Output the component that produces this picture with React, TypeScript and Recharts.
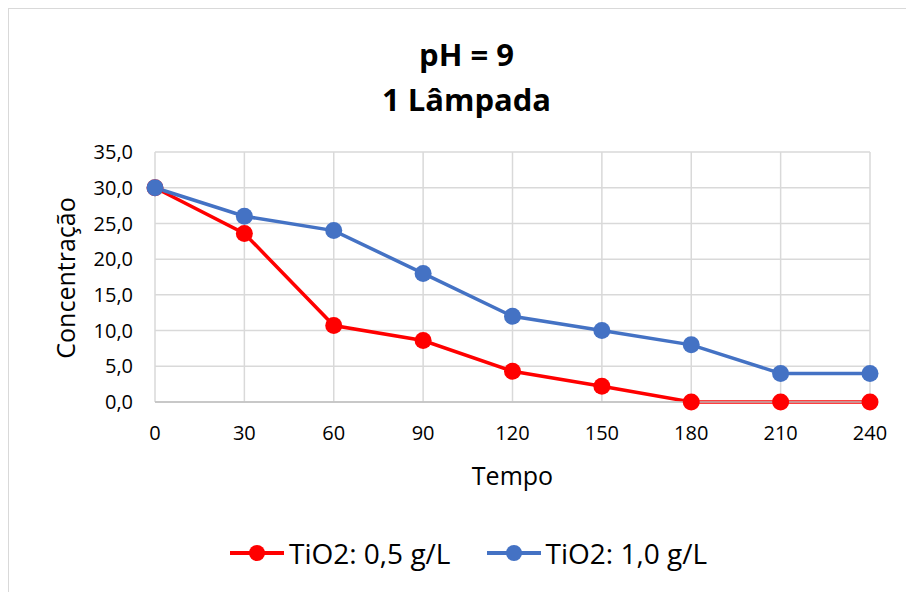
import { CartesianGrid, Label, Legend, Line, LineChart, XAxis, YAxis } from "recharts";

const FONT = "'Open Sans', 'Noto Sans', sans-serif";

// Tempo (min)
const TEMPO = [0, 30, 60, 90, 120, 150, 180, 210, 240];
// Concentração por dose de TiO2
const TIO2_05 = [30, 23.6, 10.7, 8.6, 4.3, 2.2, 0, 0, 0];
const TIO2_10 = [30, 26, 24, 18, 12, 10, 8, 4, 4];
const Y_TICKS = [0, 5, 10, 15, 20, 25, 30, 35];

const SERIES = [
  { key: "a", name: "TiO2: 0,5 g/L", color: "#FF0000" },
  { key: "b", name: "TiO2: 1,0 g/L", color: "#4472C4" },
];

const data = TEMPO.map((t, i) => ({ tempo: String(t), a: TIO2_05[i], b: TIO2_10[i] }));

const W = 897;
const H = 583;

function LegendContent({ payload }: any) {
  return (
    <div
      style={{
        display: "flex",
        justifyContent: "center",
        paddingLeft: 22,
        fontFamily: FONT,
        fontSize: 28,
        color: "#000",
        lineHeight: "38px",
      }}
    >
      {(payload || []).map((p: any, i: number) => (
        <div key={p.value} style={{ display: "flex", alignItems: "center", marginLeft: i ? 36 : 0 }}>
          <svg width={54} height={20}>
            <line x1={0} y1={10} x2={54} y2={10} stroke={p.color} strokeWidth={4} />
            <circle cx={27} cy={10} r={8} fill={p.color} />
          </svg>
          <span style={{ marginLeft: 5 }}>{p.value}</span>
        </div>
      ))}
    </div>
  );
}

export default function App() {
  return (
    <div style={{ position: "absolute", left: 8, top: 8, width: 898, height: 584, overflow: "hidden" }}>
      <div
        style={{
          position: "relative",
          width: W,
          height: H + 20,
          border: "1px solid #d9d9d9",
          background: "#fff",
        }}
      >
        <div
          style={{
            position: "absolute",
            left: 0,
            top: 23,
            width: W,
            paddingLeft: 18,
            boxSizing: "border-box",
            textAlign: "center",
            fontFamily: FONT,
            fontWeight: 700,
            fontSize: 31,
            lineHeight: "45px",
            color: "#000",
          }}
        >
          <div>pH = 9</div>
          <div>1 Lâmpada</div>
        </div>
        <LineChart
          width={W}
          height={H}
          data={data}
          margin={{ top: 143, right: 36, left: 0, bottom: 160 }}
          style={{ fontFamily: FONT }}
        >
          <CartesianGrid stroke="#d9d9d9" strokeWidth={1.5} />
          <XAxis
            dataKey="tempo"
            height={30}
            tickLine={false}
            tickSize={0}
            tickMargin={24}
            axisLine={{ stroke: "#bfbfbf", strokeWidth: 1.5 }}
            tick={{ fill: "#000", fontSize: 20 }}
            interval={0}
          >
            <Label
              content={(props: any) => {
                const vb = props.viewBox || {};
                return (
                  <text
                    x={vb.x + vb.width / 2}
                    y={vb.y + 83}
                    textAnchor="middle"
                    fill="#000"
                    fontSize={25}
                    fontFamily={FONT}
                  >
                    Tempo
                  </text>
                );
              }}
            />
          </XAxis>
          <YAxis
            width={146}
            domain={[0, 35]}
            ticks={Y_TICKS}
            interval={0}
            axisLine={false}
            tickLine={false}
            tickSize={0}
            tickMargin={22}
            tick={{ fill: "#000", fontSize: 20 }}
            tickFormatter={(v: number) => v.toFixed(1).replace(".", ",")}
          >
            <Label
              content={(props: any) => {
                const vb = props.viewBox || {};
                const x = vb.x + 56;
                const y = vb.y + vb.height / 2 + 1;
                return (
                  <text
                    x={x}
                    y={y}
                    transform={`rotate(-90, ${x}, ${y})`}
                    textAnchor="middle"
                    dominantBaseline="central"
                    fill="#000"
                    fontSize={25}
                    fontFamily={FONT}
                  >
                    Concentração
                  </text>
                );
              }}
            />
          </YAxis>
          <Legend
            verticalAlign="middle"
            layout="horizontal"
            content={LegendContent}
            wrapperStyle={{ top: 525, left: 0, width: W }}
          />
          {SERIES.map((s) => (
            <Line
              key={s.key}
              type="linear"
              dataKey={s.key}
              name={s.name}
              stroke={s.color}
              strokeWidth={3.5}
              dot={{ r: 8.5, fill: s.color, stroke: "none" }}
              activeDot={false}
              isAnimationActive={false}
            />
          ))}
        </LineChart>
      </div>
    </div>
  );
}
